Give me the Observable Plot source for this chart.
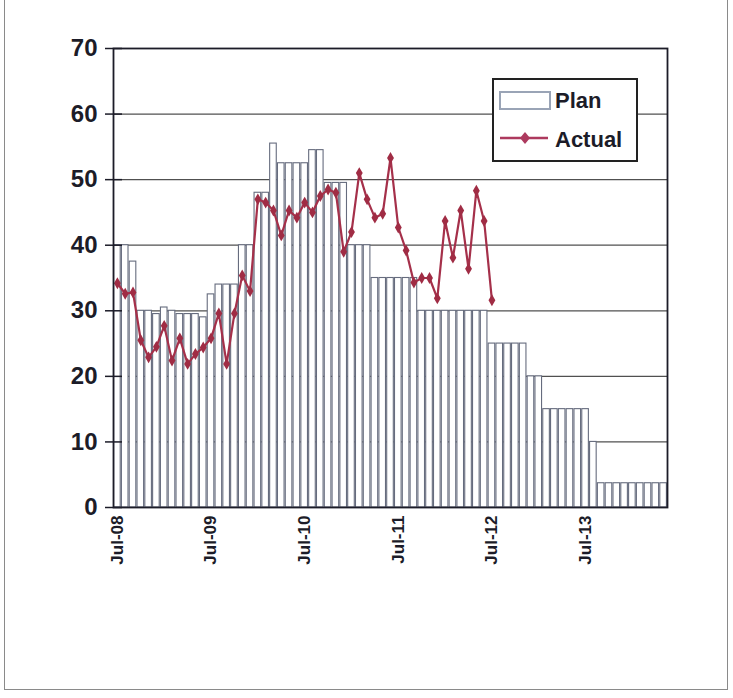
<!DOCTYPE html>
<html>
<head>
<meta charset="utf-8">
<script src="https://cdn.jsdelivr.net/npm/d3@7"></script>
<script src="https://cdn.jsdelivr.net/npm/@observablehq/plot@0.6"></script>
<style>
  body { margin: 0; background: #fff; font-family: "Liberation Sans", Arial, sans-serif; }
  #wrap { position: relative; width: 733px; height: 698px; overflow: hidden; }
  #border { position: absolute; left: 4px; top: -2px; width: 722px; height: 690px; border: 1.5px solid #8a8a8a; pointer-events: none; }
  #legend { position: absolute; left: 492px; top: 78px; width: 142px; height: 80px; border: 2px solid #222; background: #fff; }
  #legend .lbl { position: absolute; left: 61px; font-size: 22px; font-weight: bold; color: #1c1c28; line-height: 26px; }
  #legend svg { position: absolute; left: 0; top: 0; }
</style>
</head>
<body>
<div id="wrap">
  <div id="chart"></div>
  <div id="legend">
    <svg width="60" height="80">
      <rect x="6" y="12" width="50" height="17" fill="#fff" stroke="#9aa4b6" stroke-width="2"></rect>
      <line x1="6" x2="54" y1="58" y2="58" stroke="#ad3a5e" stroke-width="2.5"></line>
      <path d="M31,52 L36,58 L31,64 L26,58 Z" fill="#ad3a5e"></path>
    </svg>
    <div class="lbl" style="top:8px">Plan</div>
    <div class="lbl" style="top:47px">Actual</div>
  </div>
  <div id="border"></div>
</div>
<script>
const months = ("Jul-08 Aug-08 Sep-08 Oct-08 Nov-08 Dec-08 Jan-09 Feb-09 Mar-09 Apr-09 May-09 Jun-09 " +
  "Jul-09 Aug-09 Sep-09 Oct-09 Nov-09 Dec-09 Jan-10 Feb-10 Mar-10 Apr-10 May-10 Jun-10 " +
  "Jul-10 Aug-10 Sep-10 Oct-10 Nov-10 Dec-10 Jan-11 Feb-11 Mar-11 Apr-11 May-11 Jun-11 " +
  "Jul-11 Aug-11 Sep-11 Oct-11 Nov-11 Dec-11 Jan-12 Feb-12 Mar-12 Apr-12 May-12 Jun-12 " +
  "Jul-12 Aug-12 Sep-12 Oct-12 Nov-12 Dec-12 Jan-13 Feb-13 Mar-13 Apr-13 May-13 Jun-13 " +
  "Jul-13 Aug-13 Sep-13 Oct-13 Nov-13 Dec-13 Jan-14 Feb-14 Mar-14 Apr-14 May-14").split(" ");

const planValues = [
  40, 40, 37.5, 30, 30, 29.5, 30.5, 30, 29.5, 29.5, 29.5, 29,
  32.5, 34, 34, 34, 40, 40, 48, 48, 55.5, 52.5, 52.5, 52.5,
  52.5, 54.5, 54.5, 49.5, 49.5, 49.5, 40, 40, 40, 35, 35, 35,
  35, 35, 35, 30, 30, 30, 30, 30, 30, 30, 30, 30,
  25, 25, 25, 25, 25, 20, 20, 15, 15, 15, 15, 15,
  15, 10, 3.7, 3.7, 3.7, 3.7, 3.7, 3.7, 3.7, 3.7, 3.7
];

const actualValues = [
  34.2, 32.6, 32.8, 25.5, 22.9, 24.5, 27.7, 22.4, 25.8, 21.9, 23.4, 24.4,
  25.8, 29.6, 21.9, 29.6, 35.4, 33, 47, 46.5, 45.3, 41.5, 45.3, 44.2,
  46.5, 45, 47.5, 48.5, 48, 39, 42, 51, 47, 44.2, 44.8, 53.3, 42.7, 39.2,
  34.3, 35, 35, 31.9, 43.7, 38.1, 45.3, 36.4, 48.3, 43.7, 31.6
];

const xTickLabels = ["Jul-08", "Jul-09", "Jul-10", "Jul-11", "Jul-12", "Jul-13"];
const yTicks = [0, 10, 20, 30, 40, 50, 60, 70];
const gridTicks = [10, 20, 30, 40, 50, 60];

const plan = months.map((m, i) => ({month: m, value: planValues[i]}));
const actual = actualValues.map((v, i) => ({month: months[i], value: v}));

const chart = Plot.plot({
  width: 733,
  height: 698,
  marginLeft: 113,
  marginRight: 66,
  marginTop: 48,
  marginBottom: 191,
  style: {fontFamily: "'Liberation Sans', Arial, sans-serif", background: "transparent", color: "#1c1c28"},
  x: {type: "band", domain: months, padding: 0, label: null},
  y: {domain: [0, 70], label: null},
  marks: [
    Plot.gridY(gridTicks, {stroke: "#505050", strokeOpacity: 1, strokeWidth: 1.3}),
    Plot.barY(plan, {x: "month", y: "value", fill: "white", stroke: "#666c7e", strokeWidth: 1.1, insetLeft: 0.6, insetRight: 0.6}),
    Plot.line(actual, {x: "month", y: "value", stroke: "#a5304a", strokeWidth: 2.2}),
    Plot.dot(actual, {x: "month", y: "value", symbol: "diamond", r: 3.6, fill: "#a02c44", stroke: "none"}),
    Plot.axisY(yTicks, {tickSize: 8, tickPadding: 8, fontSize: 24, fontWeight: "bold", stroke: "#1c1c28", strokeWidth: 1.5}),
    Plot.axisY(yTicks, {tickSize: -9, text: null, stroke: "#1c1c28", strokeWidth: 1.5}),
    Plot.axisX(xTickLabels, {tickSize: 0, tickPadding: 8, tickRotate: -90, fontSize: 17, fontWeight: "bold"}),
    Plot.frame({stroke: "#1c1c28", strokeWidth: 1.8})
  ]
});
document.getElementById("chart").appendChild(chart);
</script>
</body>
</html>
